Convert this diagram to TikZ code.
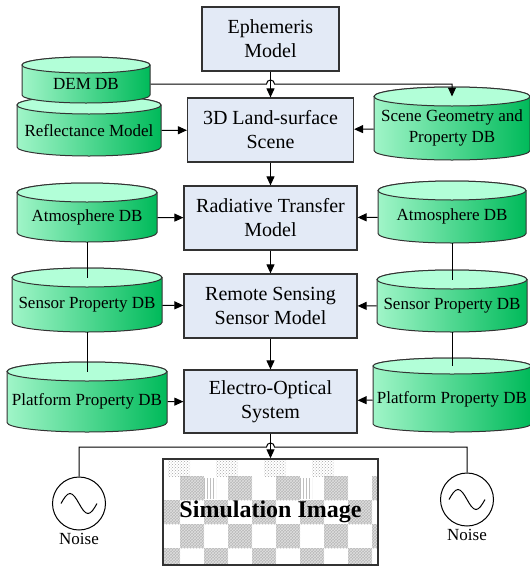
\documentclass[tikz,border=0pt]{standalone}
\usepackage{fontspec}
\setmainfont{Liberation Serif}
\usetikzlibrary{arrows.meta,positioning,calc,patterns}

\definecolor{boxfill}{RGB}{227,234,246}
\definecolor{boxline}{RGB}{50,50,50}
\definecolor{dbtop}{RGB}{178,255,216}
\definecolor{dbleft}{RGB}{160,245,200}
\definecolor{dbright}{RGB}{0,186,90}

\tikzset{
  procbox/.style={draw=boxline, fill=boxfill, line width=1.2pt, align=center,
    minimum height=64pt, inner sep=2pt, font=\fontsize{20}{24}\selectfont},
  dbbody/.style={draw=black!80, line width=1pt, left color=dbleft, right color=dbright},
  dbcap/.style={draw=black!80, line width=1pt, fill=dbtop},
  dbtext/.style={inner sep=0pt, align=center, font=\fontsize{17}{21}\selectfont},
  noisesrc/.style={circle, draw, line width=1pt, minimum size=53pt, inner sep=0pt},
  simbox/.style={draw=boxline, line width=1.5pt, minimum width=215pt, minimum height=106pt,
    font=\fontsize{24}{28}\selectfont\bfseries},
  tile/.style={fill=gray!55},
}

% database drum: name, centre x, top, bottom, half width, cap radius, text
\newcommand{\dbcyl}[7]{%
  \path[dbbody] ({#2-#5},{#3+#6}) -- ({#2-#5},{#4-#6})
    arc[start angle=180, end angle=360, x radius=#5pt, y radius=#6pt]
    -- ({#2+#5},{#3+#6})
    arc[start angle=0, end angle=180, x radius=#5pt, y radius=#6pt] -- cycle;
  \draw[dbcap] (#2,{#3+#6}) ellipse[x radius=#5pt, y radius=#6pt];
  \node[dbtext, minimum width=2*#5pt] (#1) at (#2,{(#3+#4)/2+#6/2}) {#7};
  \coordinate (#1-cap) at (#2,{#3+#6});
  \coordinate (#1-bot) at (#2,#4);
}

\begin{document}
\begin{tikzpicture}[x=1pt, y=-1pt, line width=1pt, >={Triangle[length=9pt,width=8pt]}]
    \useasboundingbox (0,0) rectangle (530,568);

    % Model chain
    \node[procbox, minimum width=137pt] (eph) at (270.5,39) {Ephemeris\\Model};
    \node[procbox, minimum width=166pt] (land) at (270.5,130) {3D Land-surface\\Scene};
    \node[procbox, minimum width=173pt] (rt) at (270.5,218) {Radiative Transfer\\Model};
    \node[procbox, minimum width=173pt] (rs) at (270.5,306) {Remote Sensing\\Sensor Model};
    \node[procbox, minimum width=173pt, minimum height=63pt] (eo) at (270.5,401.5) {Electro-Optical\\System};

    % Databases, left
    \dbcyl{refl}{89}{96}{156}{72}{9}{Reflectance Model}
    \dbcyl{dem}{86}{57}{103}{64}{8}{DEM DB}
    \dbcyl{atmL}{87}{183}{242}{70}{9.5}{Atmosphere DB}
    \dbcyl{senL}{87}{268}{332}{75}{9.5}{Sensor Property DB}
    \dbcyl{platL}{87}{362}{432}{80}{9.5}{Platform Property DB}

    % Databases, right
    \dbcyl{scene}{452}{87}{160}{78}{9.5}{Scene Geometry and\\Property DB}
    \dbcyl{atmR}{452}{181}{243}{74}{9.5}{Atmosphere DB}
    \dbcyl{senR}{452}{270}{332}{75}{9.5}{Sensor Property DB}
    \dbcyl{platR}{452}{358}{432}{79}{8}{Platform Property DB}

    % Simulated image with its tiles
    \begin{scope}
      \clip (163,459) rectangle (378,565);
      \foreach \j in {0,...,3}
        \foreach \i in {-1,...,4} {
          \fill[tile] ({180+48*\i+24*mod(\j,2)},{476+24*\j}) rectangle ++(24,24);
          \fill[pattern=crosshatch, pattern color=gray!25] ({180+48*\i+24*mod(\j,2)},{476+24*\j}) rectangle ++(24,24);
        }
      \foreach \i in {0,...,3}
        \fill[pattern=crosshatch dots, pattern color=gray!70] ({168+48*\i},459) rectangle ++(22,17);
      \foreach \x in {204,300}
        \fill[pattern=vertical lines, pattern color=gray!50] (\x,478) rectangle ++(12,20);
    \end{scope}
    \node[simbox] (sim) at (270.5,512) {Simulation Image};

    % Noise sources
    \node[noisesrc] (noiseL) at (79,503.5) {};
    \node[noisesrc] (noiseR) at (467,499.5) {};
    \draw (noiseL.center) ++(-18pt,0) sin ++(9pt,10pt) cos ++(9pt,-10pt) sin ++(9pt,-10pt) cos ++(9pt,10pt);
    \draw (noiseR.center) ++(-18pt,0) sin ++(9pt,10pt) cos ++(9pt,-10pt) sin ++(9pt,-10pt) cos ++(9pt,10pt);
    \node[below=1pt of noiseL, inner sep=1pt, font=\fontsize{17}{20}\selectfont] (noiseLtext) {Noise};
    \node[below=1pt of noiseR, inner sep=1pt, font=\fontsize{17}{20}\selectfont] (noiseRtext) {Noise};

    % Arrows down the chain
    \draw[->] (eph) -- (land);
    \draw[->] (land) -- (rt);
    \draw[->] (rt) -- (rs);
    \draw[->] (rs) -- (eo);
    \draw[->] (eo) -- (sim);

    % Arrows from the databases
    \draw[->] (dem.east) -- ($(dem.east -| eph.south)+(-4pt,0)$)
        arc[start angle=180, end angle=0, radius=4pt] -| (scene-cap);
    \draw[->] (refl) -- (land);
    \draw[->] (scene) -- (land);
    \draw[->] (atmL) -- (rt);
    \draw[->] (atmR) -- (rt);
    \draw[->] (senL) -- (rs);
    \draw[->] (senR) -- (rs);
    \draw[->] (platL) -- (eo);
    \draw[->] (platR) -- (eo);

    % Database links
    \draw (atmL-bot) -- (senL-cap);
    \draw (senL-bot) -- (platL-cap);
    \draw (atmR-bot) -- (senR-cap);
    \draw (senR-bot) -- (platR-cap);

    % Noise feed
    \coordinate (tap) at (270.5,447);
    \draw (noiseL.north) |- ($(tap)+(-4pt,0)$)
        arc[start angle=180, end angle=0, radius=4pt] -| (noiseR.north);

  \end{tikzpicture}
\end{document}
